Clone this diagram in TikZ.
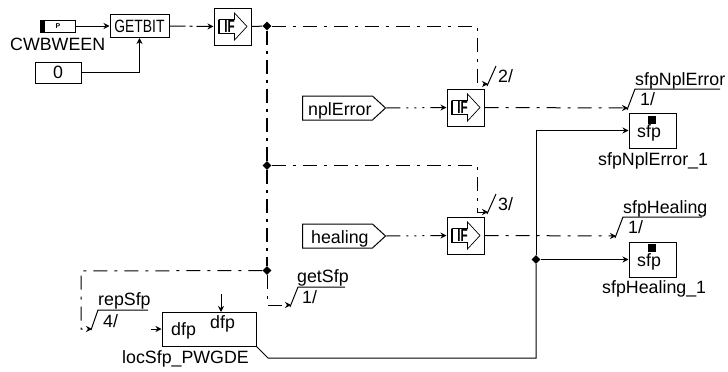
\documentclass[tikz,border=0pt]{standalone}
\usepackage{graphicx}
\usepackage{fontspec}
\setmainfont{Liberation Sans}
\usepackage{xcolor}
\usetikzlibrary{arrows.meta,positioning,shapes.geometric,shapes.symbols}
\tikzset{
  blockbox/.style={draw,line width=1pt,fill=white,inner sep=0pt},
  ifbox/.style={blockbox,minimum width=37pt,minimum height=37pt},
  sfpbox/.style={blockbox,minimum width=47pt,minimum height=35pt},
  msgbox/.style={draw,line width=1pt,signal,signal to=east,signal from=nowhere,signal pointer angle=85,inner sep=0pt,minimum width=83pt,minimum height=24pt},
  txt/.style={inner sep=0pt,anchor=base west},
  conn/.style={line width=1pt},
  sigdash/.style={line width=1pt,dash pattern=on 14pt off 7pt on 3pt off 7pt},
  sigdots/.style={line width=1pt,dash pattern=on 14pt off 6pt on 2pt off 6pt on 2pt off 6pt on 2pt off 6pt},
  trunk/.style={line width=1.6pt,dash pattern=on 14pt off 6pt on 3pt off 6pt},
  junct/.style={diamond,fill=black,inner sep=0pt,minimum size=9pt},
  ificon/.pic={
    \draw[line width=.7pt] (-13.5,-7) -- (2,-7) -- (2,-13.5) -- (14.5,0) -- (2,13.5) -- (2,7) -- (-13.5,7) -- cycle;
    \draw[line width=1.6pt] (-13.5,-7) -- (-13.5,7);
    \node[inner sep=0pt,fill=white] at (-3,0) {\scalebox{.66}[1]{\bfseries IF}};
  }
}
\begin{document}
\begin{tikzpicture}[x=1pt,y=-1pt,>={Stealth[length=6pt,width=6pt]},font=\fontsize{17.8}{20}\selectfont]
\useasboundingbox (0,0) rectangle (728,372);
% top row
\node[blockbox,minimum width=35pt,minimum height=12pt] (cwb) at (57.5,26) {};
\fill (40,20) rectangle (45,32);
\node[inner sep=0pt,font=\fontsize{7}{8}\selectfont\bfseries] (cwbp) at (58,26) {P};
\node[txt] (cwbname) at (10,50) {CWBWEEN};
\node[blockbox,minimum width=46pt,minimum height=21pt] (zero) at (58,72.5) {0};
\node[blockbox,minimum width=59pt,minimum height=23pt] (getbit) at (139.5,26) {\scalebox{.78}[1]{GETBIT}};
\node[ifbox] (if0) at (232.5,26.5) {};
\node[ifbox] (if1) at (465.5,107.5) {};
\node[ifbox] (if2) at (465.5,235.5) {};
\foreach \b in {if0,if1,if2}{\pic at (\b) {ificon};}
\node[junct] (j1) at (267,26) {};
\node[junct] (j2) at (267,165.5) {};
\node[junct] (j3) at (267,270.5) {};
\node[junct] (j5) at (536,259.5) {};
\draw[conn,->] (cwb.east) -- (getbit.west);
\draw[conn,->] (zero.east) -| (getbit.south);
\draw[conn,->,dash pattern=on 16pt off 4pt on 3pt off 4pt on 30pt] (getbit.east) -- (if0.west);
\draw[conn] (if0.east) -- (j1);
\draw[trunk] (j1) -- (j2);
\draw[trunk] (j2) -- (j3);
% inputs
\node[msgbox] (npl) at (337.5,108) {};
\node[msgbox] (heal) at (337.5,236) {};
\node[txt] (npltxt) at (308,115) {nplError};
\node[txt] (healtxt) at (311,243) {healing};
\draw[sigdots,->] (npl.east) -- (if1.west);
\draw[sigdots,->] (heal.east) -- (if2.west);
% conditions of the two lower IF blocks
\coordinate (b2) at (477,84); \coordinate (s2) at (488,84); \coordinate (t2) at (496,66);
\coordinate (b3) at (477,212); \coordinate (s3) at (488,212); \coordinate (t3) at (496,194);
\draw[sigdash,->] (j1) -| (b2) -- (s2);
\draw[sigdash,->] (j2) -| (b3) -- (s3);
\draw[conn] (487,86) -- (t2);
\draw[conn] (487,214) -- (t3);
\node[txt] (lab2) at (498,82) {2/};
\node[txt] (lab3) at (498,210) {3/};
% outputs
\node[sfpbox] (sfp1) at (652.5,130.5) {};
\node[sfpbox] (sfp2) at (652.5,259.5) {};
\fill (648,116) rectangle (656,124);
\fill (648,244) rectangle (656,252);
\node[txt] (sfp1txt) at (637,137) {sfp};
\node[txt] (sfp2txt) at (637,266) {sfp};
\node[txt] (sfp1name) at (598,165) {sfpNplError\_1};
\node[txt] (sfp2name) at (602,293) {sfpHealing\_1};
\coordinate (e1) at (628,108); \coordinate (e2) at (616,236);
\draw[sigdash,->] (if1.east) -- (e1);
\draw[sigdash,->] (if2.east) -- (e2);
\draw[conn] (627,110) -- (635,89) -- (720,89);
\draw[conn] (615,238) -- (623,217) -- (702,217);
\node[txt] (outa) at (635,85) {sfpNplError};
\node[txt] (outan) at (640,105) {1/};
\node[txt] (outb) at (623,213) {sfpHealing};
\node[txt] (outbn) at (628,233) {1/};
% local block
\node[blockbox,minimum width=94pt,minimum height=34pt] (loc) at (209,329) {};
\node[txt] (dfpa) at (171,335) {dfp};
\node[txt] (dfpb) at (210,328) {dfp};
\node[txt] (locname) at (122,363) {locSfp\_PWGDE};
\coordinate (dfpl) at (151,329); \coordinate (dfpt) at (221,294); \coordinate (loct) at (221,312);
\draw[conn,->] (dfpl) -- (loc.west);
\draw[conn,->] (dfpt) -- (loct);
\coordinate (kink) at (268,358); \coordinate (up) at (536,358);
\draw[conn] (loc.south east) -- (kink) -- (up) -- (j5);
\draw[conn,->] (j5) |- (sfp1.west);
\draw[conn,->] (j5) -- (sfp2.west);
% getSfp, repSfp
\coordinate (g1) at (267,305); \coordinate (g2) at (291,305);
\draw[sigdash,->] (j3) -- (g1) -- (g2);
\draw[conn] (290,307) -- (298,287) -- (345,287);
\node[txt] (gettxt) at (297,282) {getSfp};
\node[txt] (getn) at (302,303) {1/};
\coordinate (r1) at (81,271); \coordinate (r2) at (81,329); \coordinate (r3) at (92,329);
\draw[sigdash,->] (j3) -- (r1) -- (r2) -- (r3);
\draw[conn] (91,330) -- (98,310) -- (148,310);
\node[txt] (reptxt) at (98,305) {repSfp};
\node[txt] (repn) at (103,327) {4/};
\end{tikzpicture}
\end{document}
